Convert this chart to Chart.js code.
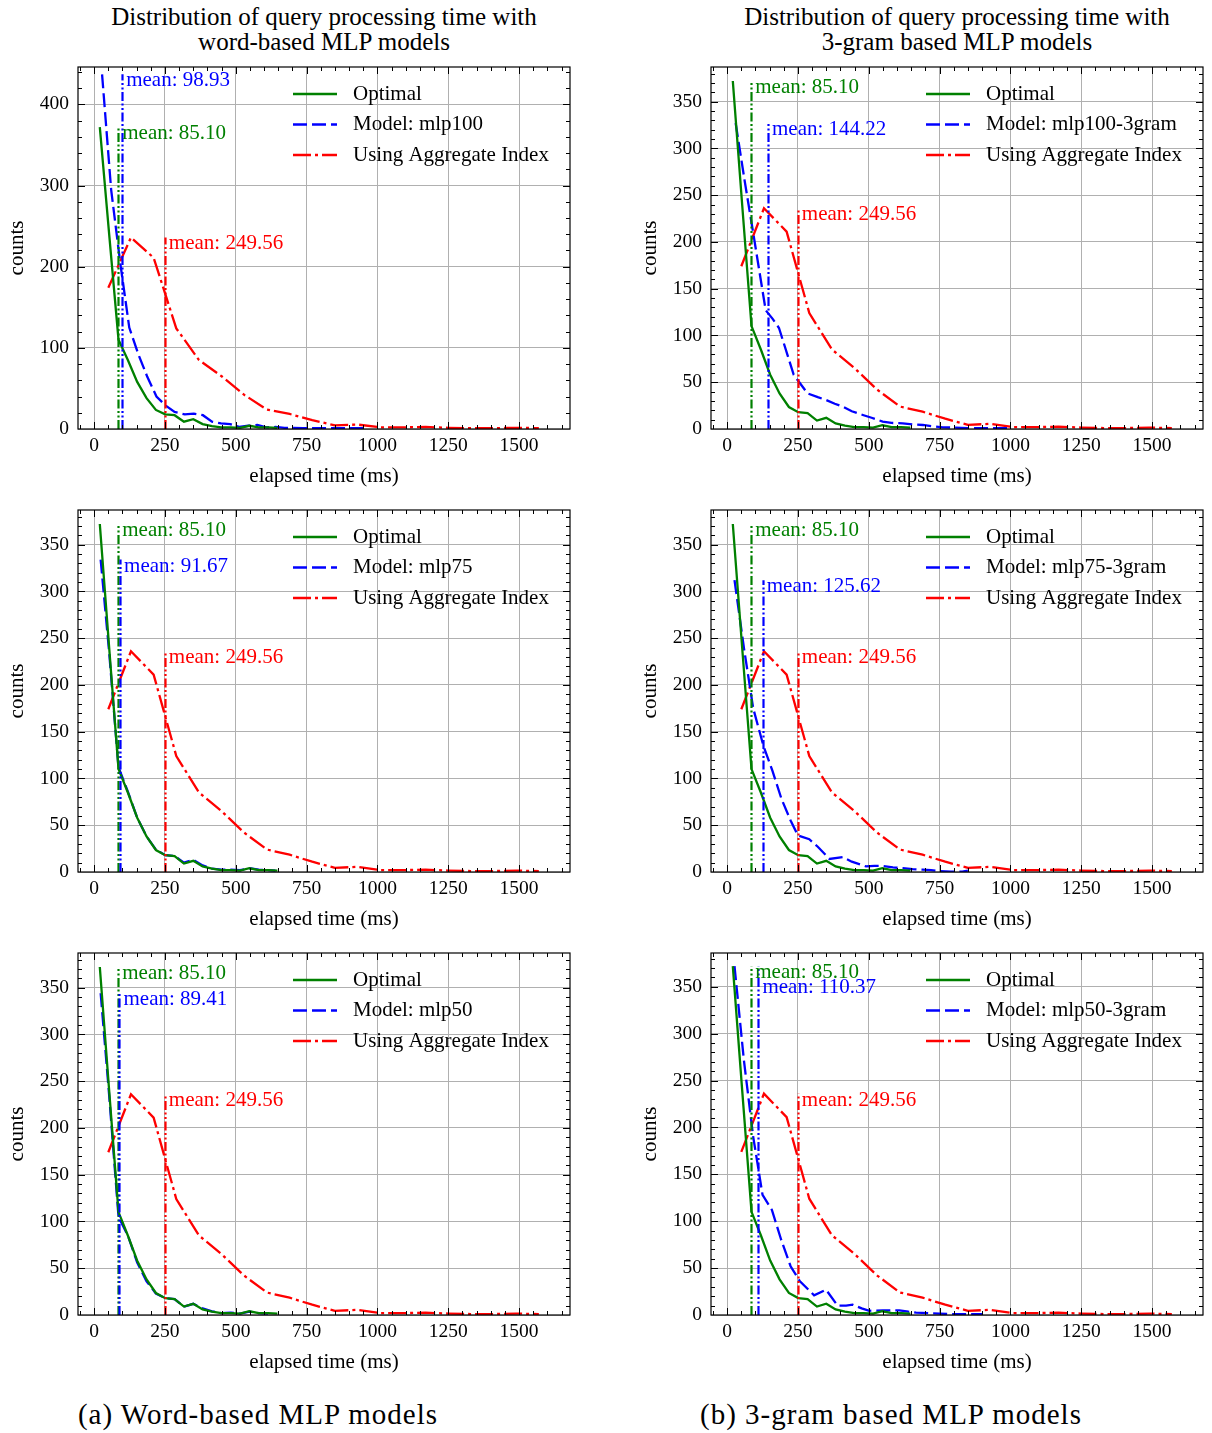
<!DOCTYPE html>
<html>
<head>
<meta charset="utf-8">
<script src="https://cdn.jsdelivr.net/npm/chart.js@4.4.0/dist/chart.umd.min.js"></script>
<style>
  body { margin:0; background:#fff; width:1212px; height:1433px; position:relative; overflow:hidden;
         font-family:'Liberation Serif','Times New Roman',serif; color:#000; }
  .ttl { position:absolute; text-align:center; font-size:25px; line-height:25px; white-space:nowrap; }
  .cap { position:absolute; text-align:center; font-size:29px; line-height:30px; letter-spacing:1px; white-space:nowrap; }
  canvas { position:absolute; }
</style>
</head>
<body>
<div class="ttl" style="left:28px;width:592px;top:4px">Distribution of query processing time with<br>word-based MLP models</div>
<div class="ttl" style="left:661px;width:592px;top:4px">Distribution of query processing time with<br>3-gram based MLP models</div>
<div class="cap" style="left:38px;width:440px;top:1399px">(a) Word-based MLP models</div>
<div class="cap" style="left:671px;width:440px;top:1399px">(b) 3-gram based MLP models</div>
<script>
// ---- data ----
var xTicks = [0, 250, 500, 750, 1000, 1250, 1500];
var yTicksA = [0, 100, 200, 300, 400];
var yTicksB = [0, 50, 100, 150, 200, 250, 300, 350];

var optX = [20, 53, 86, 119, 152, 185, 218, 251, 284, 317, 350, 383, 416, 449, 482, 515, 548, 581, 614, 647];
var optY = [372, 240, 110, 85, 58, 38, 23.5, 18, 17, 9, 12, 6, 3.5, 2, 2, 1.5, 4, 2, 2, 1.5];
var optMean = 85.10;

var aggX = [50, 130, 210, 290, 370, 450, 530, 610, 690, 770, 850, 930, 1010, 1090, 1170, 1250, 1330, 1410, 1490, 1570];
var aggY = [174, 236, 211, 124, 85, 65, 42, 24, 18.5, 11, 4.5, 5.5, 2, 2, 2.5, 1.5, 1, 1, 1.5, 1];
var aggMean = 249.56;

var m100X = [28, 60, 92, 124, 156, 188, 220, 252, 284, 320, 352, 384, 416, 448, 480, 512, 544, 576, 608, 640, 672, 704, 736, 768, 800, 850, 900, 950];
var m100Y = [437, 295, 205, 125, 92, 64, 40, 29, 21, 18, 19, 17, 9, 7, 6, 2.5, 4, 5, 2, 2.5, 1.5, 1.5, 1, 1, 1, 1, 1, 1];
var m100gX = [30, 62, 95, 136, 160, 183, 235, 284, 320, 349, 380, 408, 440, 479, 510, 549, 580, 620, 655, 691, 725, 761, 800, 850, 900, 950, 1000];
var m100gY = [327, 265, 204, 127, 118, 108, 58, 38, 34, 31, 27, 24, 19, 15, 12, 8, 6.5, 6, 5, 4.3, 3, 1.8, 1.5, 1, 1, 1, 1];
var m75X = [23, 53, 86, 119, 152, 185, 218, 251, 284, 317, 350, 383, 416, 449, 482, 515, 548, 581, 614, 640];
var m75Y = [334, 235, 112, 86, 58, 38, 24, 18, 17, 10, 13, 7, 3.5, 2.5, 2.5, 2, 4, 2.5, 2, 1.5];
var m75gX = [26, 60, 92, 128, 160, 192, 224, 250, 290, 320, 361, 408, 440, 490, 520, 550, 585, 620, 655, 690, 720, 750, 790, 830, 850];
var m75gY = [312, 238, 175, 135, 108, 78, 55, 39, 35, 27, 14, 16, 11, 6, 6.5, 6.5, 5, 4, 3, 2.5, 2, 1, 0.5, 0.5, 1.5];
var m50X = [23, 53, 86, 119, 152, 185, 218, 251, 284, 317, 350, 383, 416, 449, 482, 515, 548, 581, 614];
var m50Y = [344, 235, 105, 85, 56, 36, 23, 18, 17, 9, 12, 7, 4, 2, 2.5, 1.5, 3.5, 2, 1.5];
var m50gX = [26, 59, 92, 125, 158, 191, 224, 257, 307, 349, 390, 420, 443, 475, 502, 550, 608, 640, 667, 714, 750, 785, 856, 903];
var m50gY = [372, 272, 190, 128, 112, 80, 52, 36, 21, 27, 10, 10, 11, 7, 4.5, 5, 5, 3.5, 2.5, 2, 1.5, 1, 1, 1];

var models = ['mlp100', 'mlp100-3gram', 'mlp75', 'mlp75-3gram', 'mlp50', 'mlp50-3gram'];
var modelMeans = [98.93, 144.22, 91.67, 125.62, 89.41, 110.37];
var modelX = [m100X, m100gX, m75X, m75gX, m50X, m50gX];
var modelY = [m100Y, m100gY, m75Y, m75gY, m50Y, m50gY];
var yMaxes = [446, 387, 387, 387, 387, 386];

// ---- layout ----
var GREEN = '#008000', BLUE = '#0000ff', RED = '#ff0000', GRID = '#b0b0b0';
var PAD_TOP = 24, CANVAS_H = 24 + 362 + 60;
var panelPos = [
  {left: 0, top: 67 - PAD_TOP, w: 600, padR: 30},
  {left: 633, top: 67 - PAD_TOP, w: 579, padR: 9},
  {left: 0, top: 510 - PAD_TOP, w: 600, padR: 30},
  {left: 633, top: 510 - PAD_TOP, w: 579, padR: 9},
  {left: 0, top: 953 - PAD_TOP, w: 600, padR: 30},
  {left: 633, top: 953 - PAD_TOP, w: 579, padR: 9}
];
var labelShift = [0, 0, 0, 0, 0, 15];
var TEXT_FONT = "21px 'Liberation Serif', serif";

Chart.defaults.font.family = "'Liberation Serif', 'Times New Roman', serif";
Chart.defaults.font.size = 19.5;
Chart.defaults.color = '#000';

function pts(xs, ys) {
  return xs.map(function(x, k) { return {x: x, y: ys[k]}; });
}
function maxOf(a) { return Math.max.apply(null, a); }

var deco = {
  id: 'deco',
  afterDatasetsDraw: function(chart, args, o) {
    var ctx = chart.ctx, a = chart.chartArea, xs = chart.scales.x, ys = chart.scales.y;
    ctx.save();
    ctx.beginPath();
    ctx.rect(a.left, a.top, a.right - a.left, a.bottom - a.top);
    ctx.clip();
    // mean lines + labels
    o.means.forEach(function(m) {
      var px = Math.round(xs.getPixelForValue(m.v)) + 0.5;
      var top = ys.getPixelForValue(m.max);
      ctx.strokeStyle = m.c;
      ctx.lineWidth = 2.2;
      ctx.setLineDash([9, 2.5, 2, 2.5, 2, 2.5]);
      ctx.beginPath();
      ctx.moveTo(px, ys.getPixelForValue(0));
      ctx.lineTo(px, top);
      ctx.stroke();
    });
    ctx.setLineDash([]);
    ctx.font = TEXT_FONT;
    ctx.textAlign = 'left';
    ctx.textBaseline = 'alphabetic';
    o.means.forEach(function(m) {
      var px = xs.getPixelForValue(m.v);
      var top = ys.getPixelForValue(m.max);
      ctx.fillStyle = m.c;
      ctx.fillText('mean: ' + m.v.toFixed(2), px + 4, top + 12 + m.shift);
    });
    ctx.restore();

    // frame and inward ticks on all sides
    ctx.save();
    ctx.strokeStyle = '#000';
    ctx.lineWidth = 1.2;
    ctx.strokeRect(a.left, a.top, a.right - a.left, a.bottom - a.top);
    ctx.lineWidth = 1;
    ctx.beginPath();
    for (var v = -50; v <= 1680; v += 50) {
      var px = Math.round(xs.getPixelForValue(v)) + 0.5;
      if (px <= a.left || px >= a.right) continue;
      var len = (v % 250 === 0) ? 7 : 4;
      ctx.moveTo(px, a.bottom); ctx.lineTo(px, a.bottom - len);
      ctx.moveTo(px, a.top); ctx.lineTo(px, a.top + len);
    }
    for (var w = 0; w <= ys.max; w += o.yMinor) {
      var py = Math.round(ys.getPixelForValue(w)) + 0.5;
      if (py <= a.top || py >= a.bottom) continue;
      var len2 = (o.yMajor.indexOf(w) >= 0) ? 7 : 4;
      ctx.moveTo(a.left, py); ctx.lineTo(a.left + len2, py);
      ctx.moveTo(a.right, py); ctx.lineTo(a.right - len2, py);
    }
    ctx.stroke();

    // legend, no frame
    ctx.font = TEXT_FONT;
    ctx.textBaseline = 'middle';
    ctx.fillStyle = '#000';
    var rows = [27, 57.5, 88];
    chart.data.datasets.forEach(function(ds, k) {
      var y = a.top + rows[k];
      ctx.strokeStyle = ds.borderColor;
      ctx.lineWidth = 2.3;
      ctx.setLineDash(ds.borderDash || []);
      ctx.beginPath();
      ctx.moveTo(a.left + 215, y);
      ctx.lineTo(a.left + 259, y);
      ctx.stroke();
      ctx.setLineDash([]);
      ctx.fillText(ds.label, a.left + 275, y);
    });
    ctx.restore();
  }
};

function makePanel(i) {
  var p = panelPos[i];
  var canvas = document.createElement('canvas');
  canvas.width = p.w;
  canvas.height = CANVAS_H;
  canvas.style.left = p.left + 'px';
  canvas.style.top = p.top + 'px';
  canvas.style.width = p.w + 'px';
  canvas.style.height = CANVAS_H + 'px';
  document.body.appendChild(canvas);
  var yT = i === 0 ? yTicksA : yTicksB;

  new Chart(canvas, {
    type: 'line',
    data: {
      datasets: [
        {label: 'Optimal', data: pts(optX, optY), borderColor: GREEN, borderWidth: 2.3, pointRadius: 0, tension: 0},
        {label: 'Model: ' + models[i], data: pts(modelX[i], modelY[i]), borderColor: BLUE, borderWidth: 2.3,
         borderDash: [14, 5], pointRadius: 0, tension: 0},
        {label: 'Using Aggregate Index', data: pts(aggX, aggY), borderColor: RED, borderWidth: 2.3,
         borderDash: [18, 4, 3, 4], pointRadius: 0, tension: 0}
      ]
    },
    options: {
      responsive: false,
      animation: false,
      devicePixelRatio: 1,
      layout: {padding: {left: 0, right: p.padR, top: PAD_TOP, bottom: 0}},
      plugins: {
        legend: {display: false},
        tooltip: {enabled: false},
        deco: {
          yMinor: i === 0 ? 20 : 10,
          yMajor: yT,
          means: [
            {v: optMean, max: maxOf(optY), c: GREEN, shift: 0},
            {v: modelMeans[i], max: maxOf(modelY[i]), c: BLUE, shift: labelShift[i]},
            {v: aggMean, max: maxOf(aggY), c: RED, shift: 0}
          ]
        }
      },
      scales: {
        x: {
          type: 'linear', min: -57, max: 1680,
          afterBuildTicks: function(s) { s.ticks = xTicks.map(function(v) { return {value: v}; }); },
          afterFit: function(s) { s.height = 60; },
          grid: {color: GRID, lineWidth: 1, drawTicks: false},
          border: {display: false},
          ticks: {padding: 5, autoSkip: false, maxRotation: 0, callback: function(v) { return String(v); }},
          title: {display: true, text: 'elapsed time (ms)', font: {size: 21}, padding: {top: 0, bottom: 0}}
        },
        y: {
          type: 'linear', min: 0, max: yMaxes[i],
          afterBuildTicks: function(s) { s.ticks = yT.map(function(v) { return {value: v}; }); },
          afterFit: function(s) { s.width = 78; },
          grid: {color: GRID, lineWidth: 1, drawTicks: false},
          border: {display: false},
          ticks: {padding: 9, autoSkip: false, callback: function(v) { return String(v); }},
          title: {display: true, text: 'counts', font: {size: 21}, padding: {top: 5, bottom: 0}}
        }
      }
    },
    plugins: [deco]
  });
}

for (var i = 0; i < 6; i++) makePanel(i);
</script>
</body>
</html>
